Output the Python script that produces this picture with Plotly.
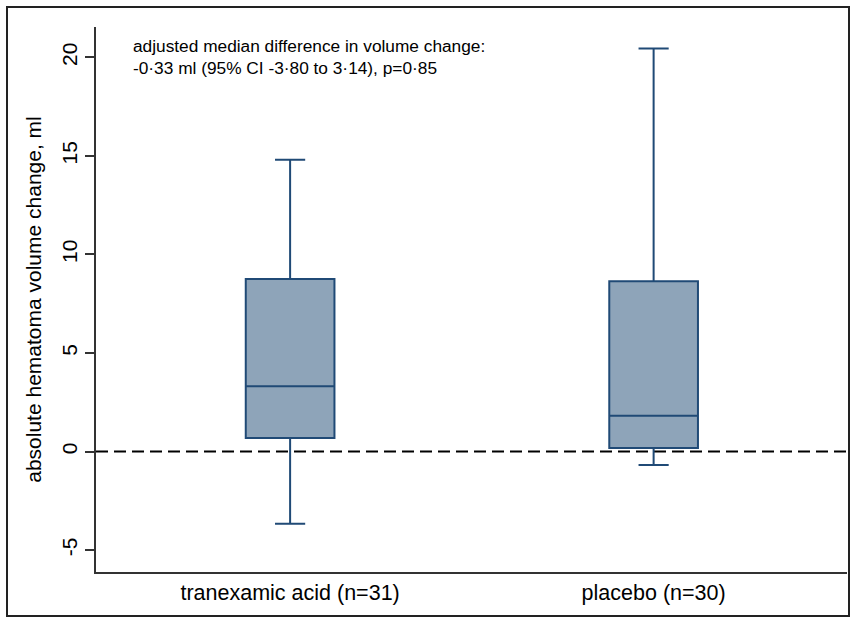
import plotly.graph_objects as go

groups = ["tranexamic acid (n=31)", "placebo (n=30)"]
positions = [0, 1]
q1 = [0.69, 0.18]
median = [3.31, 1.82]
q3 = [8.75, 8.64]
lower = [-3.66, -0.68]
upper = [14.8, 20.45]
yticks = [-5, 0, 5, 10, 15, 20]
ytick_labels = ["-5", "0", "5", "10", "15", "20"]
note = ["adjusted median difference in volume change:",
        "-0\u00b733 ml (95% CI -3\u00b780 to 3\u00b714), p=0\u00b785"]

fill = "rgb(142,164,185)"
edge = "rgb(32,74,118)"

fig = go.Figure()
for i in range(2):
    fig.add_trace(go.Box(
        x=[positions[i]], q1=[q1[i]], median=[median[i]], q3=[q3[i]],
        lowerfence=[lower[i]], upperfence=[upper[i]],
        width=0.244, whiskerwidth=0.34,
        fillcolor=fill, line=dict(color=edge, width=2),
        boxpoints=False, showlegend=False, hoverinfo="skip",
    ))

W, H = 855, 619
L, R, T, B = 96, 8, 27, 47
pw, ph = W - L - R, H - T - B

def px(x):
    return (x - L) / pw

def py(y):
    return (H - B - y) / ph

fig.add_shape(type="line", xref="paper", yref="y", x0=0, x1=1, y0=0, y1=0,
              line=dict(color="black", width=2, dash="12px,6px"), layer="below")
fig.add_shape(type="rect", xref="paper", yref="paper",
              x0=px(7), x1=px(849), y0=py(7), y1=py(616),
              line=dict(color="#222222", width=2))

fig.add_annotation(xref="paper", yref="paper", x=px(131), y=py(34),
                   xanchor="left", yanchor="top", align="left", showarrow=False,
                   text="<br>".join(note),
                   font=dict(family="Liberation Sans, Arial", size=17.3, color="black"))

fig.update_layout(
    width=W, height=H, margin=dict(l=L, r=R, t=T, b=B),
    plot_bgcolor="white", paper_bgcolor="white",
    font=dict(family="Liberation Sans, Arial", size=21, color="black"),
    xaxis=dict(range=[-0.534, 1.532], tickvals=positions, ticktext=groups,
               showline=True, linecolor="#333333", linewidth=2, ticks="",
               showgrid=False, zeroline=False, tickfont=dict(size=21.5)),
    yaxis=dict(range=[-6.11, 21.54], tickvals=yticks, ticktext=ytick_labels,
               ticks="outside", ticklen=9,
               tickcolor="#333333", tickwidth=1.5,
               showline=True, linecolor="#333333", linewidth=2,
               showgrid=False, zeroline=False, tickangle=-90,
               tickfont=dict(size=21),
               title=dict(text="absolute hematoma volume change, ml",
                          font=dict(size=21), standoff=10)),
)

fig.write_html("out.html", config={"displayModeBar": False},
               post_script="document.body.style.margin='0';")
